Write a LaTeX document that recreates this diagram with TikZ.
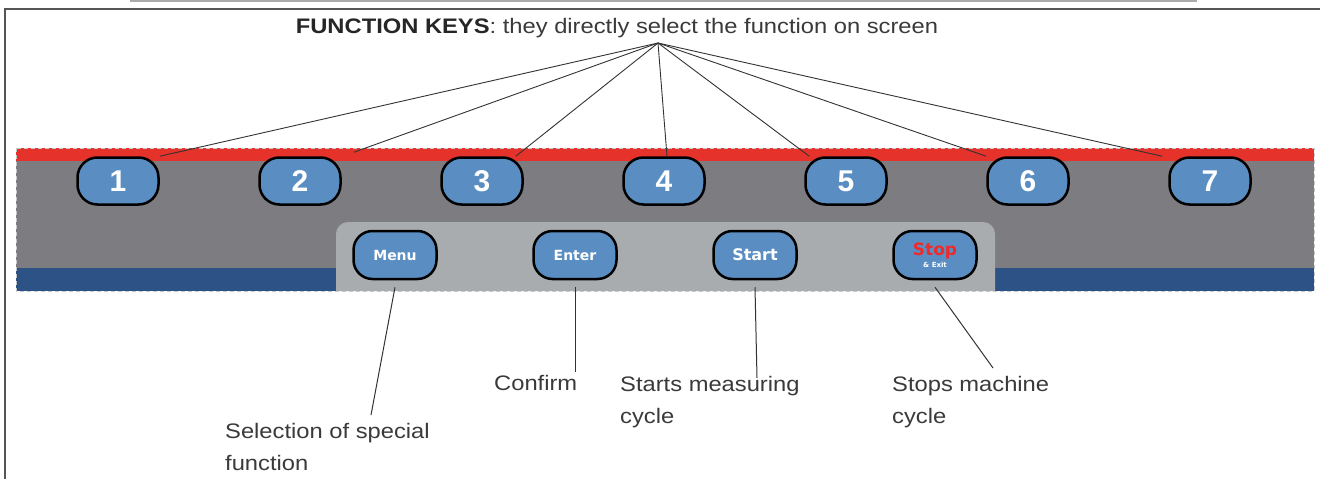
\documentclass[tikz,border=0pt]{standalone}
\usepackage{fontspec}
\setmainfont{Liberation Sans}[FakeStretch=1.13]
\newfontfamily\keyfont{Liberation Sans}
\newfontfamily\capfont{DejaVu Sans}
\usepackage{tikz}
\usetikzlibrary{positioning}
\usetikzlibrary{calc}
\definecolor{panelgray}{HTML}{7D7C81}
\definecolor{panelred}{HTML}{E5322B}
\definecolor{panelblue}{HTML}{2C5286}
\definecolor{innergray}{HTML}{A9ACAF}
\definecolor{keyblue}{HTML}{5A8EC2}
\definecolor{stopred}{HTML}{EE2A2A}
\definecolor{textgray}{HTML}{3A3A3A}
\definecolor{leadgray}{HTML}{333333}
\definecolor{framegray}{HTML}{555555}
\definecolor{rulegray}{HTML}{AAAAAA}
\definecolor{dashgray}{HTML}{C8C8C8}
\tikzstyle{fkey} = [draw=black, line width=2.5pt, fill=keyblue, rounded corners=20pt, minimum width=81pt, minimum height=47pt, inner sep=0pt, text=white, font=\keyfont\bfseries\fontsize{30}{30}\selectfont]
\tikzstyle{ckey} = [draw=black, line width=2.5pt, fill=keyblue, rounded corners=19pt, minimum width=83pt, minimum height=48pt, inner sep=0pt, align=center, text=white, font=\capfont\bfseries\fontsize{14}{14}\selectfont]
\tikzstyle{note} = [align=left, anchor=base west, inner sep=0pt, text=textgray, font=\fontsize{21}{32}\selectfont]
\tikzstyle{coord} = [coordinate]
\tikzstyle{lead} = [draw=leadgray, line width=1pt]

\begin{document}
\begin{tikzpicture}[x=1pt,y=-1pt,node distance=182pt]
    \useasboundingbox[fill=white] (0,0) rectangle (1320,479);
    \draw [rulegray, line width=1.5pt] (130,1) -- (1197,1); % frame
    \draw [framegray, line width=1.2pt] (1320,9) -- (5,9) -- (5,479);

    \fill [panelgray] (16,148) rectangle (1314,291); % panel
    \fill [panelred] (16,148) rectangle (1314,161);
    \fill [panelblue] (16,268) rectangle (1314,291);
    \fill [innergray] (336,291) {[rounded corners=12pt] -- (336,222) -- (995,222)} -- (995,291) -- cycle;
    \draw [dashgray, line width=1pt, dash pattern=on 4pt off 3pt] (16,148) rectangle (1314,291);

    \node [fkey] (k1) at (118,181) {1};
    \node [fkey, right of=k1] (k2) {2};
    \node [fkey, right of=k2] (k3) {3};
    \node [fkey, right of=k3] (k4) {4};
    \node [fkey, right of=k4] (k5) {5};
    \node [fkey, right of=k5] (k6) {6};
    \node [fkey, right of=k6] (k7) {7};

    \node [ckey] (menu) at (395,255) {Menu};
    \node [ckey, right of=menu, node distance=180pt] (enter) {Enter};
    \node [ckey, right of=enter, node distance=180pt, font=\capfont\bfseries\fontsize{16}{16}\selectfont] (start) {Start};
    \node [ckey, right of=start, node distance=180pt] (stop) {\textcolor{stopred}{\fontsize{17}{15}\selectfont Stop}\\[-2pt]{\fontsize{7}{7}\selectfont \& Exit}};

    \node [anchor=base, inner sep=0pt, text=textgray, font=\fontsize{21}{24}\selectfont] (title) at (617,33) {\textcolor{black!85}{\textbf{FUNCTION KEYS}}: they directly select the function on screen};
    \node [coord] (apex) at (658,43) {};

    \draw [lead, line width=0.9pt] (apex) -- (k1.north east); % fan
    \draw [lead, line width=0.9pt] (apex) -- ([shift={(12pt,4pt)}]k2.north east);
    \draw [lead, line width=0.9pt] (apex) -- ([xshift=-8pt]k3.north east);
    \draw [lead, line width=0.9pt] (apex) -- ([xshift=3pt]k4.north);
    \draw [lead, line width=0.9pt] (apex) -- ([xshift=5pt]k5.north west);
    \draw [lead, line width=0.9pt] (apex) -- (k6.north west);
    \draw [lead, line width=0.9pt] (apex) -- ([xshift=-6pt]k7.north west);

    \node [note] (sel) at (225,470) {Selection of special\\function}; % base = last line
    \node [note] (conf) at (494,390) {Confirm};
    \node [note] (meas) at (620,423) {Starts measuring\\cycle};
    \node [note] (halt) at (892,423) {Stops machine\\cycle};

    \node [coord] (selEnd) at (371,415) {};
    \node [coord] (confEnd) at (575,372) {};
    \node [coord] (measEnd) at (757,378) {};
    \node [coord] (haltEnd) at (993,368) {};

    \draw [lead] ([yshift=-7pt]menu.south) -- (selEnd);
    \draw [lead] ([yshift=-7pt]enter.south) -- (confEnd);
    \draw [lead] ([yshift=-7pt]start.south) -- (measEnd);
    \draw [lead] ([yshift=-7pt]stop.south) -- (haltEnd);
\end{tikzpicture}
\end{document}
